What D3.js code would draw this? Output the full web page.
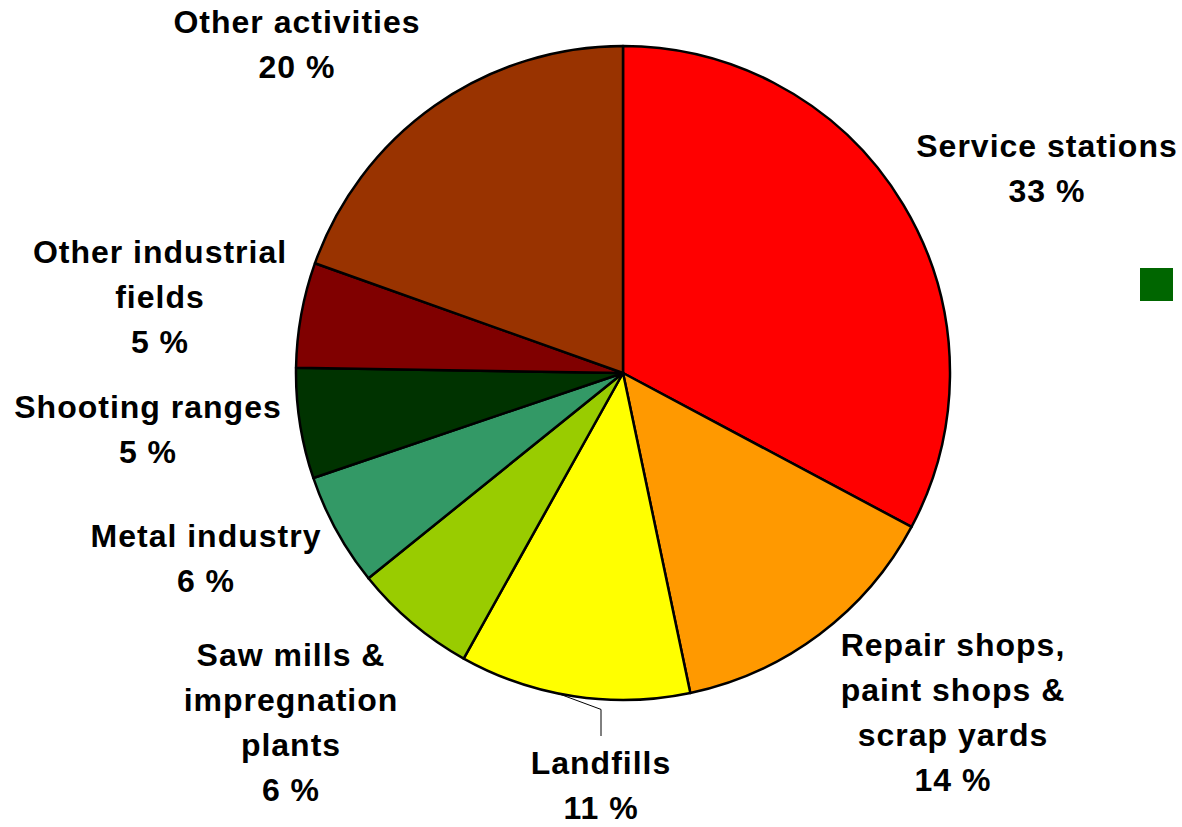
<!DOCTYPE html>
<html>
<head>
<meta charset="utf-8">
<script src="https://cdn.jsdelivr.net/npm/d3@7"></script>
<style>
  html, body { margin: 0; padding: 0; background: #fff; }
  svg { display: block; }
  .lbl { font-family: "Liberation Sans", Arial, sans-serif; font-weight: bold; font-size: 32px; letter-spacing: 1px; fill: #000; }
</style>
</head>
<body>
<div id="chart"></div>
<script>
// data, clockwise from 12 o'clock
const categories = [
  ['Service stations'],
  ['Repair shops,', 'paint shops &', 'scrap yards'],
  ['Landfills'],
  ['Saw mills &', 'impregnation', 'plants'],
  ['Metal industry'],
  ['Shooting ranges'],
  ['Other industrial', 'fields'],
  ['Other activities']
];
const shares = [32.8, 13.9, 11.4, 6.1, 5.6, 5.45, 5.2, 19.55];
const colors = ['#FF0000', '#FF9900', '#FFFF00', '#99CC00', '#339966', '#003300', '#800000', '#993300'];

// label layout: centre x and first baseline of each label block
const labelPos = [
  [1047, 157], [953, 656], [601, 774], [291, 666],
  [206, 547], [148, 418], [160, 263], [297, 33]
];

const width = 1182, height = 827;
const cx = 623, cy = 373, radius = 327;
const lineH = 45;

const svg = d3.select('#chart').append('svg')
  .attr('width', width)
  .attr('height', height);

const pie = d3.pie().sort(null).value(d => d)(shares);
const arc = d3.arc().innerRadius(0).outerRadius(radius);

const g = svg.append('g').attr('transform', `translate(${cx},${cy})`);

g.selectAll('path')
  .data(pie)
  .join('path')
    .attr('d', arc)
    .attr('fill', (d, i) => colors[i])
    .attr('stroke', '#000')
    .attr('stroke-width', 2.5)
    .attr('stroke-linejoin', 'round');

// leader line for Landfills
const lf = pie[2];
const lfAng = lf.startAngle + (lf.endAngle - lf.startAngle) * 0.57;
const p0 = [cx + radius * Math.sin(lfAng), cy - radius * Math.cos(lfAng)];
svg.append('polyline')
  .attr('points', [p0, [labelPos[2][0], p0[1] + 16], [labelPos[2][0], labelPos[2][1] - 38]].map(p => p.join(',')).join(' '))
  .attr('fill', 'none')
  .attr('stroke', '#000')
  .attr('stroke-width', 1);

// labels
const labels = svg.selectAll('text.lbl')
  .data(categories)
  .join('text')
    .attr('class', 'lbl')
    .attr('text-anchor', 'middle');

labels.each(function(lines, i) {
  const t = d3.select(this);
  const all = lines.concat([Math.round(shares[i]) + ' %']);
  all.forEach((s, k) => {
    t.append('tspan')
      .attr('x', labelPos[i][0])
      .attr('y', labelPos[i][1] + k * lineH)
      .text(s);
  });
});

// stray legend key
svg.append('rect')
  .attr('x', 1140)
  .attr('y', 268)
  .attr('width', 33)
  .attr('height', 33)
  .attr('fill', '#006600');
</script>
</body>
</html>
